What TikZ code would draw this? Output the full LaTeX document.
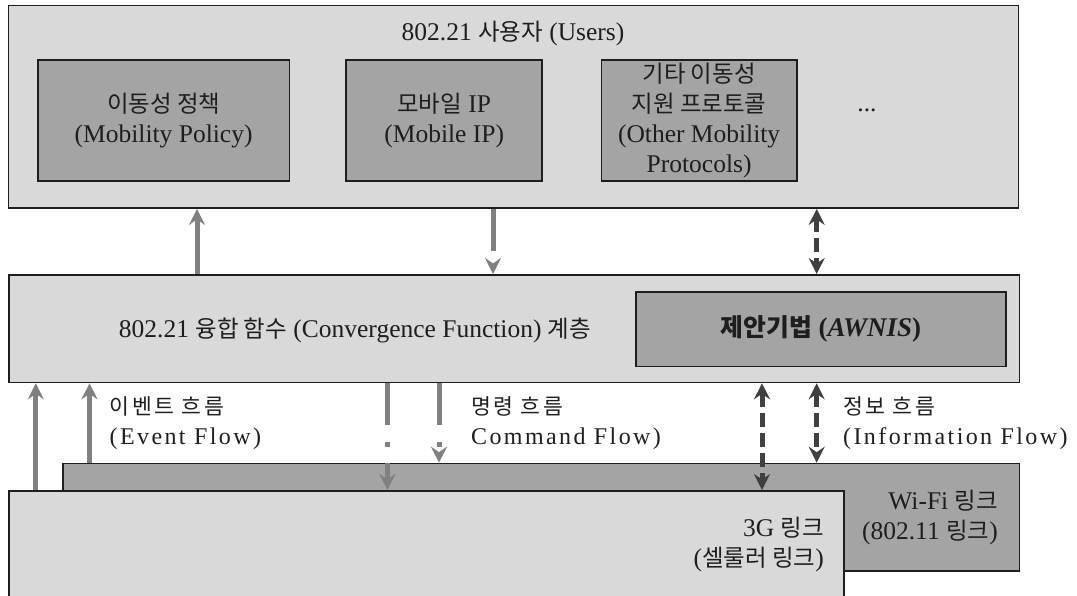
\documentclass[tikz,border=0pt]{standalone}
\usepackage{fontspec}
\setmainfont{Liberation Serif}
\newfontfamily\kr[Scale=0.92]{Noto Sans CJK KR}
\newfontfamily\flowlat[LetterSpace=10]{Liberation Serif}
\newfontfamily\flowkr[Scale=0.9,LetterSpace=12]{Noto Sans CJK KR}
\usetikzlibrary{arrows.meta}
\newcommand{\K}[1]{{\kr #1}}
\newcommand{\FK}[1]{{\flowkr #1}}
\definecolor{lightbox}{HTML}{D9D9D9}
\definecolor{midbox}{HTML}{A3A4A3}
\definecolor{edgec}{HTML}{1E1E1E}
\definecolor{txt}{HTML}{1E1E1E}
\definecolor{garrow}{HTML}{808080}
\definecolor{darrow}{HTML}{404040}
\begin{document}
\begin{tikzpicture}[x=1pt,y=-1pt,
  bigbox/.style={draw=edgec,fill=lightbox,line width=1.6pt,anchor=north west,inner sep=0pt},
  subbox/.style={draw=edgec,fill=midbox,line width=1.6pt,anchor=north west,inner sep=0pt,align=center,text=txt,font=\fontsize{25.5}{30}\selectfont},
  lbl/.style={text=txt,font=\fontsize{25.5}{30}\selectfont,inner sep=0pt},
  flowlbl/.style={text=txt,font=\flowlat\fontsize{24}{30}\selectfont,align=left,anchor=west,inner sep=0pt},
  gtip/.style={-{Stealth[length=16pt,width=16pt,inset=5.5pt]}},
  gup/.style={draw=garrow,line width=5pt,gtip},
  gdash/.style={draw=garrow,line width=5pt,dash pattern=on 42pt off 40pt,gtip},
  gdashdot/.style={draw=garrow,line width=5pt,dash pattern=on 42pt off 17pt on 5pt off 16pt,gtip},
  ddash/.style={draw=darrow,line width=5pt,dash pattern=on 14pt off 6pt,{Stealth[length=16pt,width=16pt,inset=5.5pt]}-{Stealth[length=16pt,width=16pt,inset=5.5pt]}}
]
\path[use as bounding box] (0,0) rectangle (1077,595);
\clip (0,0) rectangle (1077,595);

% top: users
\node[bigbox,minimum width=1010pt,minimum height=202.6pt] (users) at (7.6,4.7) {};
\node[lbl] (title) at (513,33.3) {802.21 \K{사용자} (Users)};
\node[subbox,minimum width=251.6pt,minimum height=120.7pt] (b1) at (37,59.3) {\K{이동성 정책}\\(Mobility Policy)};
\node[subbox,minimum width=196pt,minimum height=120.7pt] (b2) at (345.4,59.3) {\K{모바일} IP\\(Mobile IP)};
\node[subbox,minimum width=195.4pt,minimum height=120.7pt] (b3) at (600.6,59.3) {\K{기타 이동성}\\\K{지원 프로토콜}\\(Other Mobility\\Protocols)};
\node[lbl] (dots) at (867,110) {...};

% middle: convergence function
\node[bigbox,minimum width=1010.8pt,minimum height=107.7pt] (mid) at (8,274) {};
\node[lbl] (midtxt) at (355,330.7) {802.21 \K{융합 함수} (Convergence Function) \K{계층}};
\node[subbox,minimum width=370pt,minimum height=74.7pt,font=\fontsize{27}{30}\selectfont\bfseries] (awnis) at (635,291) {\K{제안기법} (\textit{AWNIS})};

% bottom: links
\node[subbox,minimum width=956.5pt,minimum height=107.3pt] (wifi) at (62.3,462.7) {};
\node[lbl,align=right,anchor=east] (wtxt) at (998,518) {Wi-Fi \K{링크}\\(802.11 \K{링크})};
\node[bigbox,minimum width=835.4pt,minimum height=130pt] (g3) at (8,490) {};
\node[lbl,align=right,anchor=east] (gtxt) at (824,545) {3G \K{링크}\\(\K{셀룰러 링크})};

% x positions of connectors
\coordinate (xa) at (35.8,0);
\coordinate (xb) at (89.5,0);
\coordinate (xc) at (197,0);
\coordinate (xd) at (493,0);
\coordinate (xe) at (387.4,0);
\coordinate (xf) at (439,0);
\coordinate (xg) at (762,0);
\coordinate (xh) at (816.7,0);

% users <-> convergence
\draw[gup] (mid.north -| xc) -- (users.south -| xc);
\draw[gdash] (users.south -| xd) -- (mid.north -| xd);
\draw[ddash] (users.south -| xh) -- (mid.north -| xh);

% event flow
\draw[gup] (g3.north -| xa) -- (mid.south -| xa);
\draw[gup] (wifi.north -| xb) -- (mid.south -| xb);
\node[flowlbl] (ev) at (109.5,423) {\FK{이벤트 흐름}\\(Event Flow)};

% command flow
\draw[gdashdot] (mid.south -| xe) -- (g3.north -| xe);
\draw[gdashdot] (mid.south -| xf) -- (wifi.north -| xf);
\node[flowlbl] (cmd) at (471,423) {\FK{명령 흐름}\\Command Flow)};

% information flow
\draw[ddash] (mid.south -| xg) -- (g3.north -| xg);
\draw[ddash] (mid.south -| xh) -- (wifi.north -| xh);
\node[flowlbl] (inf) at (843,423) {\FK{정보 흐름}\\(Information Flow)};
\end{tikzpicture}
\end{document}
